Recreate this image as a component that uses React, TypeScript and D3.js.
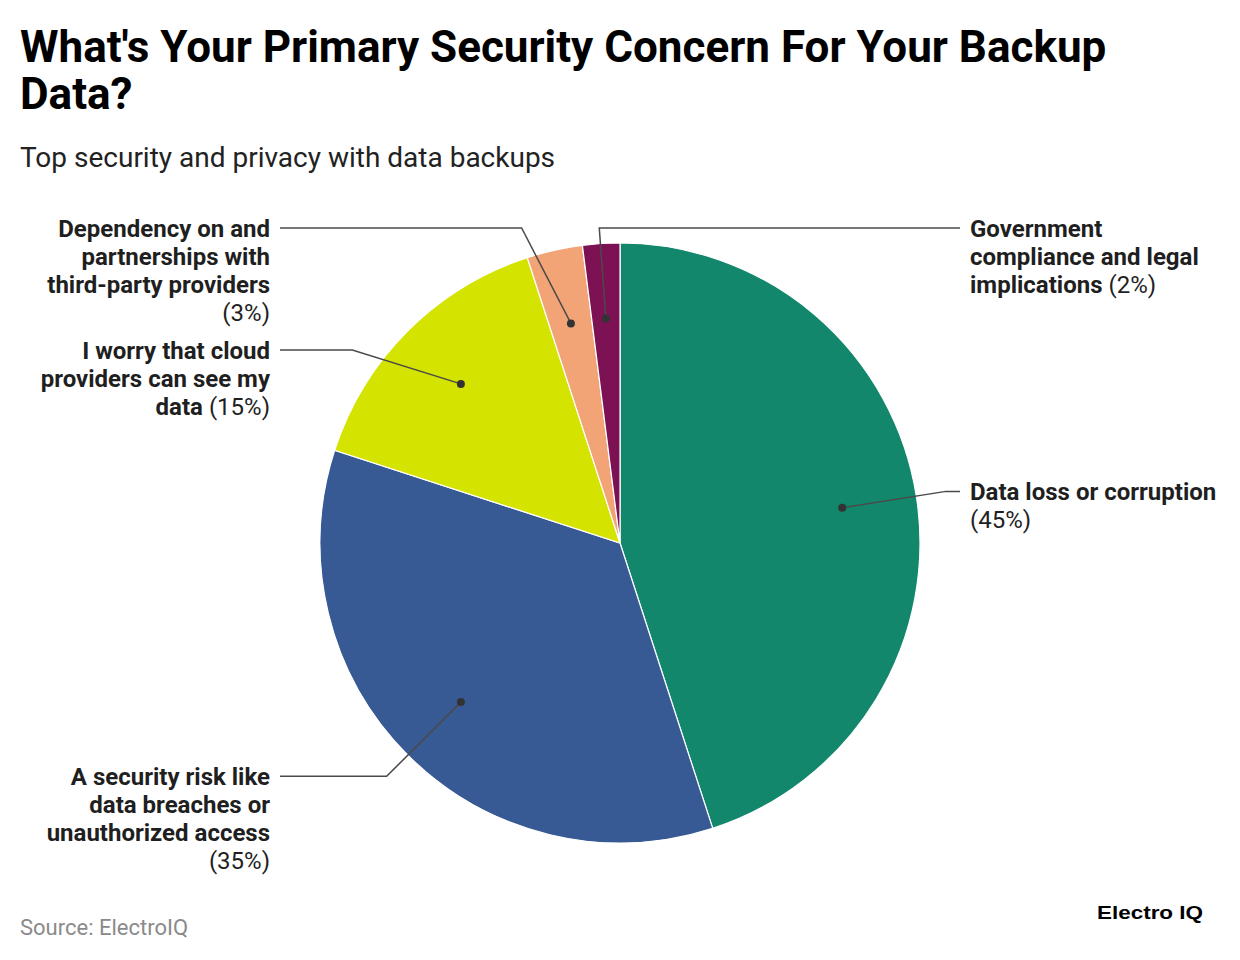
import React, { useEffect, useRef } from "react";
import * as d3 from "d3";

const categories = [
  "Data loss or corruption",
  "A security risk like\ndata breaches or\nunauthorized access",
  "I worry that cloud\nproviders can see my\ndata",
  "Dependency on and\npartnerships with\nthird-party providers",
  "Government\ncompliance and legal\nimplications",
];
const values = [45, 35, 15, 3, 2];
const colors = ["#12876B", "#375A94", "#D4E300", "#F2A477", "#7C1154"];

const titleLines = ["What's Your Primary Security Concern For Your Backup", "Data?"];
const subtitle = "Top security and privacy with data backups";
const source = "Source: ElectroIQ";
const brand = "Electro IQ";

const W = 1240;
const H = 960;
const CX = 620;
const CY = 543;
const R = 300;
const FONT = "Roboto, 'Noto Sans', sans-serif";
const LABEL_SIZE = 24;
const LINE_H = 28;
const MAX_W = 250;

export default function App() {
  const ref = useRef<SVGSVGElement>(null);

  useEffect(() => {
    const svg = d3.select(ref.current);
    svg.selectAll("*").remove();

    // Title
    titleLines.forEach((t, i) => {
      svg.append("text").attr("x", 20).attr("y", 62 + i * 47)
        .attr("font-family", FONT).attr("font-weight", 700)
        .attr("font-size", 44).attr("fill", "#000").text(t);
    });
    svg.append("text").attr("x", 20).attr("y", 167).attr("font-family", FONT)
      .attr("font-size", 28).attr("fill", "#222").text(subtitle);

    svg.append("text").attr("x", 20).attr("y", 935).attr("font-family", FONT)
      .attr("font-size", 22).attr("fill", "#8a8a8a").text(source);
    svg.append("text").attr("x", 1203).attr("y", 919).attr("text-anchor", "end")
      .attr("font-family", "'Liberation Sans', Arial, sans-serif").attr("font-weight", 700).attr("font-size", 18)
      .attr("textLength", 106).attr("lengthAdjust", "spacingAndGlyphs")
      .attr("fill", "#000").text(brand);

    const data = categories.map((c, i) => ({ name: c, value: values[i], color: colors[i] }));
    const pie = d3.pie<any>().sort(null).value((d) => d.value);
    const arcs = pie(data);
    const arc = d3.arc<any>().innerRadius(0).outerRadius(R);

    const g = svg.append("g").attr("transform", `translate(${CX},${CY})`);
    g.selectAll("path").data(arcs).enter().append("path")
      .attr("d", arc as any)
      .attr("fill", (d: any) => d.data.color)
      .attr("stroke", "#fff").attr("stroke-width", 1.2);

    // measuring
    const canvas = document.createElement("canvas");
    const ctx = canvas.getContext("2d")!;
    const measure = (t: string, bold: boolean) => {
      ctx.font = `${bold ? "bold " : ""}${LABEL_SIZE}px Roboto`;
      return ctx.measureText(t).width;
    };

    const total = d3.sum(values);
    const R2 = R * 1.1;
    const items = arcs.map((a: any) => {
      const mid = (a.startAngle + a.endAngle) / 2;
      const side = mid < Math.PI || mid > 2 * Math.PI - 0.1 ? "right" : "left";
      const lines: { bold: string; reg: string }[] = a.data.name.split("\n").map((s: string) => ({ bold: s, reg: "" }));
      const pct = `(${Math.round((a.data.value / total) * 100)}%)`;
      const last = lines[lines.length - 1];
      if (measure(last.bold, true) + measure(" " + pct, false) <= MAX_W) {
        last.reg = " " + pct;
      } else {
        lines.push({ bold: "", reg: pct });
      }
      return {
        a, mid, side, lines, pct,
        naturalY: CY - R2 * Math.cos(mid),
        y: 0,
      };
    });

    const TOP = 228;
    (["left", "right"] as const).forEach((side) => {
      const list = items.filter((d) => d.side === side).sort((p, q) => p.naturalY - q.naturalY);
      let minY = TOP;
      list.forEach((d) => {
        d.y = Math.max(d.naturalY, minY);
        minY = d.y + d.lines.length * LINE_H + 10;
      });
    });

    items.forEach((d) => {
      const dotX = CX + 0.75 * R * Math.sin(d.mid);
      const dotY = CY - 0.75 * R * Math.cos(d.mid);
      const midSide = Math.sin(d.mid) >= 0 ? "right" : "left";
      const dy = d.y - CY;
      let bx: number;
      if (midSide === d.side && Math.abs(dy) < R2) {
        bx = CX + (d.side === "right" ? 1 : -1) * Math.sqrt(R2 * R2 - dy * dy);
      } else {
        bx = CX + R2 * Math.sin(d.mid);
      }
      const endX = d.side === "right" ? 960 : 280;
      svg.append("path")
        .attr("d", d3.line()([[dotX, dotY], [bx, d.y], [endX, d.y]]) as string)
        .attr("fill", "none").attr("stroke", "#4a4a4a").attr("stroke-width", 1.5);
      svg.append("circle").attr("cx", dotX).attr("cy", dotY).attr("r", 4).attr("fill", "#333");

      const tx = d.side === "right" ? 970 : 270;
      const text = svg.append("text").attr("font-family", FONT).attr("font-size", LABEL_SIZE)
        .attr("fill", "#1f1f1f").attr("text-anchor", d.side === "right" ? "start" : "end");
      d.lines.forEach((ln, i) => {
        const y = d.y + 8.5 + i * LINE_H;
        const first = text.append("tspan").attr("x", tx).attr("y", y);
        if (ln.bold) {
          first.attr("font-weight", 700).text(ln.bold);
          if (ln.reg) text.append("tspan").attr("font-weight", 400).text(ln.reg);
        } else {
          first.attr("font-weight", 400).text(ln.reg.trim());
        }
      });
    });
  }, []);

  return (
    <svg
      ref={ref}
      width={W}
      height={H}
      style={{ position: "absolute", left: 0, top: 0, background: "#fff" }}
    />
  );
}
